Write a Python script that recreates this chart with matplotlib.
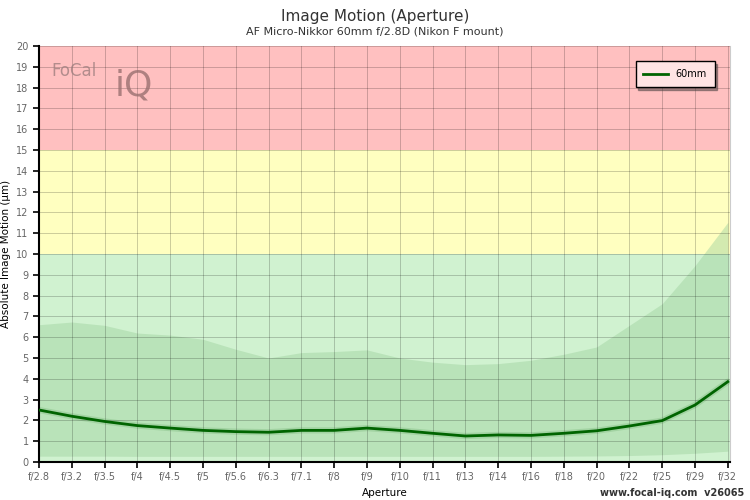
import numpy as np
import matplotlib
matplotlib.use("Agg")
import matplotlib.pyplot as plt

# 絞り値
apertures = ["f/2.8", "f/3.2", "f/3.5", "f/4", "f/4.5", "f/5", "f/5.6", "f/6.3", "f/7.1",
             "f/8", "f/9", "f/10", "f/11", "f/13", "f/14", "f/16", "f/18", "f/20",
             "f/22", "f/25", "f/29", "f/32"]
# 平均のブレ量 (µm)
motion_60mm = [2.5, 2.2, 1.95, 1.75, 1.63, 1.52, 1.46, 1.43, 1.52, 1.52, 1.63,
               1.52, 1.38, 1.25, 1.30, 1.28, 1.38, 1.50, 1.73, 1.99, 2.74, 3.86]
# 範囲の上限・下限
band_upper = [6.6, 6.73, 6.57, 6.2, 6.1, 5.9, 5.42, 5.0, 5.26, 5.31, 5.39,
              5.0, 4.8, 4.68, 4.73, 4.89, 5.18, 5.53, 6.57, 7.61, 9.44, 11.52]
band_lower = [0.28, 0.28, 0.28, 0.27, 0.27, 0.27, 0.27, 0.27, 0.27, 0.27, 0.27,
              0.27, 0.27, 0.27, 0.27, 0.27, 0.28, 0.29, 0.31, 0.35, 0.42, 0.52]

x = np.arange(len(apertures))

fig = plt.figure(figsize=(7.5, 5), dpi=100)
ax = fig.add_axes([0.052, 0.076, 0.921, 0.832])

# 背景の帯
ax.axhspan(15, 20, color="#ffc0c0", zorder=0, lw=0)
ax.axhspan(10, 15, color="#ffffc0", zorder=0, lw=0)
ax.axhspan(0, 10, color="#d0f2d0", zorder=0, lw=0)

ax.fill_between(x, band_lower, band_upper, color="#9ed29e", alpha=0.45, lw=0, zorder=1)

# 線（影付き）
ax.plot(x, motion_60mm, color="#006400", lw=4.5, alpha=0.12, zorder=2, solid_capstyle="round")
ax.plot(x, motion_60mm, color="#006400", lw=2.0, zorder=3, label="60mm")

ax.set_xlim(0, len(apertures) - 1 + 0.06)
ax.set_ylim(0, 20)
ax.set_xticks(x)
ax.set_xticklabels(apertures)
ax.set_yticks(np.arange(0, 21, 1))
ax.grid(True, color="black", alpha=0.2, lw=0.7)
for line in ax.get_xgridlines() + ax.get_ygridlines():
    line.set_zorder(1.5)

ax.tick_params(axis="both", labelsize=7, labelcolor="#666666", color="black", length=4, width=1.2)
ax.spines["top"].set_visible(False)
ax.spines["right"].set_color("#cccccc")
ax.spines["left"].set_linewidth(1.5)
ax.spines["bottom"].set_linewidth(1.5)

ax.set_xlabel("Aperture", fontsize=7.5, labelpad=4)
ax.set_ylabel("Absolute Image Motion (µm)", fontsize=7.5, labelpad=4)

fig.text(0.5, 0.968, "Image Motion (Aperture)", ha="center", va="center", fontsize=11, color="#333333")
fig.text(0.5, 0.937, "AF Micro-Nikkor 60mm f/2.8D (Nikon F mount)", ha="center", va="center",
         fontsize=8, color="#333333")
fig.text(0.992, 0.013, "www.focal-iq.com  v26065", ha="right", va="center", fontsize=7,
         fontweight="bold", color="#333333")

# ロゴ
ax.text(0.018, 0.94, "FoCal", transform=ax.transAxes, fontsize=12, color="#a08080",
        alpha=0.8, va="center", zorder=4)
ax.text(0.11, 0.905, "iQ", transform=ax.transAxes, fontsize=26, color="#9a7070",
        alpha=0.8, va="center", zorder=4)

leg = ax.legend(loc="upper right", bbox_to_anchor=(0.985, 0.975), fontsize=7, frameon=True,
                fancybox=False, shadow=True, handlelength=2.5, borderpad=0.8)
leg.get_frame().set_edgecolor("black")
leg.get_frame().set_facecolor("#ffe4e4")
leg.get_frame().set_alpha(1)

plt.savefig("out.png", dpi=100)
